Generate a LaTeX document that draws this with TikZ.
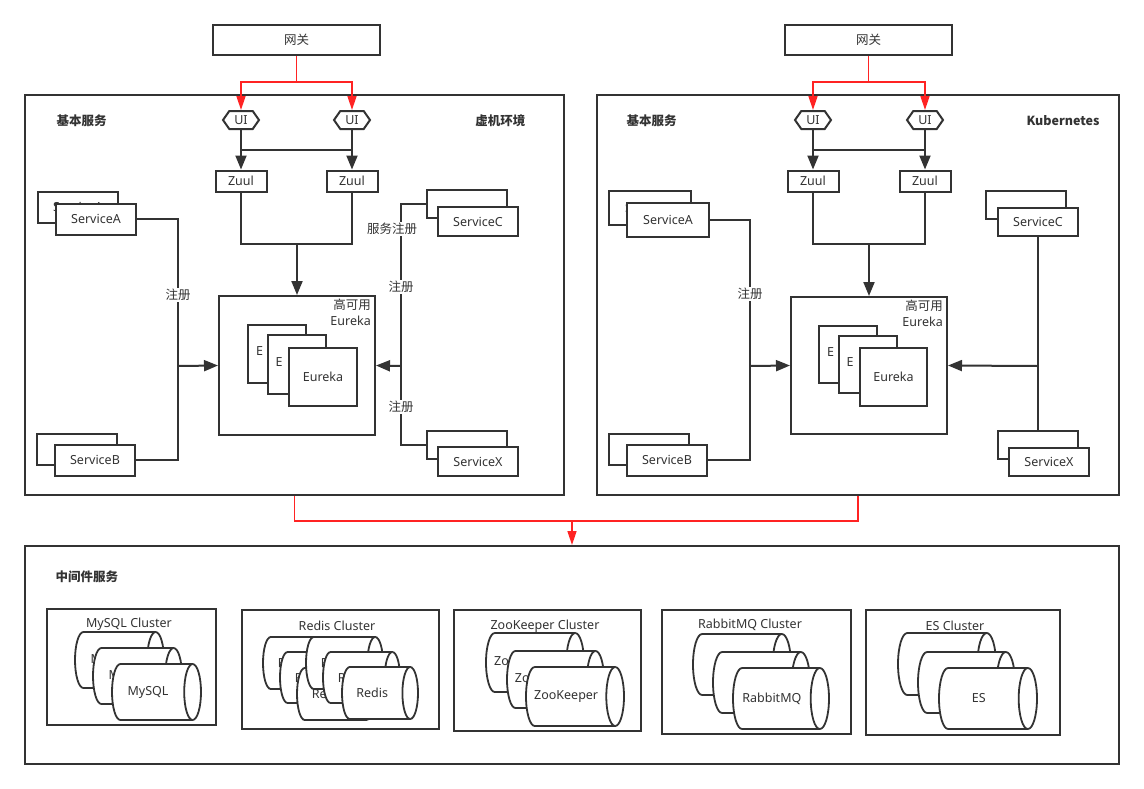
\documentclass[tikz,border=0pt]{standalone}
\usepackage{fontspec}
\setmainfont{Noto Sans}
\newfontfamily\cn{Noto Sans CJK SC}
\usetikzlibrary{arrows.meta,shapes.symbols}
\definecolor{linec}{RGB}{51,51,51}
\definecolor{redc}{RGB}{255,35,35}
% #1 name, #2 left, #3 top, #4 length, #5 diameter, #6 text
\newcommand\drum[6]{%
  \pgfmathsetmacro\dl{#2}\pgfmathsetmacro\dr{#2+#4}%
  \pgfmathsetmacro\dt{#3}\pgfmathsetmacro\db{#3+#5}%
  \pgfmathsetmacro\dry{#5/2}\pgfmathsetmacro\drx{0.3*\dry}%
  \filldraw[dbline] (\dr-\drx,\dt) arc[start angle=90,end angle=-90,x radius=\drx pt,y radius=\dry pt]
    -- (\dl+\drx,\db) arc[start angle=-90,end angle=-270,x radius=\drx pt,y radius=\dry pt] -- cycle;
  \draw[dbline] (\dr-\drx,\db) arc[start angle=-90,end angle=-270,x radius=\drx pt,y radius=\dry pt];
  \node (#1) at (\dl+#4/2-\drx,\dt+\dry) {#6};
}

\begin{document}
\begin{tikzpicture}[x=1pt,y=-1pt,every node/.style={font=\fontsize{12.5}{16}\selectfont,text=linec},
box/.style={shape=rectangle,draw=linec,line width=2pt,fill=white,inner sep=0pt},
panel/.style={box,fill=none},
svc/.style={box,minimum width=80pt,minimum height=31pt},
zuul/.style={box,minimum width=51pt,minimum height=21pt},
ui/.style={shape=signal,signal to=east and west,signal pointer angle=110,draw=linec,line width=2pt,fill=white,inner sep=0pt,minimum width=36pt,minimum height=18pt},
eur/.style={box,minimum width=58pt,minimum height=58pt},
eurB/.style={eur,text width=42pt,align=left},
head/.style={font=\fontsize{12.5}{15}\selectfont\cn\bfseries},
tag/.style={fill=white,inner sep=1pt},
dbline/.style={draw=linec,line width=1.8pt,fill=white},
ln/.style={draw=linec,line width=2pt},
arr/.style={ln,-{Triangle[length=14pt,width=11pt]}},
redln/.style={draw=redc,line width=1.5pt},
redarr/.style={redln,-{Triangle[length=14pt,width=9pt]}}]
\useasboundingbox (0,0) rectangle (1144,788);

\node[panel,minimum width=539pt,minimum height=400pt] (lP) at (294.5,295) {};
\node[panel,minimum width=522pt,minimum height=400pt] (rP) at (858,295) {};
\node[panel,minimum width=1094pt,minimum height=218pt] (M) at (572,655) {};

\node[box,minimum width=167pt,minimum height=30pt] (lG) at (296.5,40) {\cn 网关};
\node[box,minimum width=167pt,minimum height=30pt] (rG) at (868.5,40) {\cn 网关};

% left: vm
\node[head,anchor=west] (lH) at (53,121) {基本服务};
\node[head,anchor=east] (lV) at (529,121) {虚机环境};
\node[ui] (lU1) at (241,120) {UI};
\node[ui] (lU2) at (352,120) {UI};
\node[zuul] (lZ1) at (241,181) {Zuul};
\node[zuul] (lZ2) at (352,181) {Zuul};
\node[box,minimum width=156pt,minimum height=139pt] (lE) at (297,365.5) {};
\node[anchor=north east,align=right,inner sep=0pt,xshift=-5pt,yshift=-4pt] (lEt) at (lE.north east) {{\cn 高可用}\\Eureka};
\node[eurB] (lE1) at (277,354) {\raisebox{5pt}{E}};
\node[eurB,minimum height=59pt] (lE2) at (296.5,364.5) {\raisebox{5pt}{E}};
\node[eur,minimum width=68pt] (lE3) at (323,377) {Eureka};
\node[svc] (lA0) at (78,207) {\raisebox{-4pt}{ServiceA}};
\node[svc] (lA) at (96,219) {ServiceA};
\node[svc] (lB0) at (77,449) {};
\node[svc] (lB) at (95,460) {ServiceB};
\node[svc,minimum height=28pt] (lC0) at (467,204) {};
\node[svc,minimum height=29pt] (lC) at (478,221.5) {ServiceC};
\node[svc,minimum height=28pt] (lX0) at (467,445) {};
\node[svc,minimum height=29pt] (lX) at (478,461.5) {ServiceX};

% right: k8s
\node[head,anchor=west] (rH) at (623,121) {基本服务};
\node[head,anchor=east] (rK) at (1103,121) {Kubernetes};
\node[ui] (rU1) at (813,120) {UI};
\node[ui] (rU2) at (925,120) {UI};
\node[zuul] (rZ1) at (813,181) {Zuul};
\node[zuul] (rZ2) at (925,181) {Zuul};
\node[box,minimum width=156pt,minimum height=137pt] (rE) at (869,365.5) {};
\node[anchor=north east,align=right,inner sep=0pt,xshift=-5pt,yshift=-4pt] (rEt) at (rE.north east) {{\cn 高可用}\\Eureka};
\node[eurB,minimum height=57pt] (rE1) at (848,354.5) {\raisebox{5pt}{E}};
\node[eurB,minimum height=57pt] (rE2) at (867.5,364.5) {\raisebox{5pt}{E}};
\node[eur,minimum width=67pt] (rE3) at (893.5,377) {Eureka};
\node[svc,minimum width=82pt,minimum height=34pt] (rA0) at (650,208) {\raisebox{-4pt}{ServiceA}};
\node[svc,minimum width=82pt,minimum height=34pt] (rA) at (668,220) {ServiceA};
\node[svc] (rB0) at (649,449) {};
\node[svc] (rB) at (667,460) {ServiceB};
\node[svc,minimum height=28pt] (rC0) at (1026,205) {};
\node[svc,minimum height=28pt] (rC) at (1038,222) {ServiceC};
\node[svc,minimum height=28pt] (rX0) at (1038,445) {};
\node[svc,minimum height=28pt] (rX) at (1049,462) {ServiceX};

% middleware
\node[head,anchor=west] (mH) at (52,577) {中间件服务};
\node[box,minimum width=169pt,minimum height=116pt] (c1) at (131.5,667) {};
\node[box,minimum width=197pt,minimum height=119pt] (c2) at (340.5,669.5) {};
\node[box,minimum width=187pt,minimum height=121pt] (c3) at (547.5,670.5) {};
\node[box,minimum width=189pt,minimum height=124pt] (c4) at (756.5,672) {};
\node[box,minimum width=194pt,minimum height=125pt] (c5) at (963,672.5) {};
\node (c1t) at (129,624) {MySQL Cluster};
\node (c2t) at (337,626) {Redis Cluster};
\node (c3t) at (545,626) {ZooKeeper Cluster};
\node (c4t) at (750,625) {RabbitMQ Cluster};
\node (c5t) at (955,626) {ES Cluster};
\drum{c11}{75}{632}{89}{56}{MySQL}
\drum{c12}{93}{648}{89}{56}{MySQL}
\drum{c13}{112}{664}{89}{56}{MySQL}
\drum{c21}{263}{637}{77}{52}{Redis}
\drum{c22}{280}{652}{77}{51}{Redis}
\drum{c23}{297}{668}{77}{52}{Redis}
\drum{c24}{306}{637}{77}{52}{Redis}
\drum{c25}{323}{652}{77}{51}{Redis}
\drum{c26}{342}{667}{76}{52}{Redis}
\drum{c31}{486}{633}{98}{59}{ZooKeeper}
\drum{c32}{507}{651}{97}{57}{ZooKeeper}
\drum{c33}{526}{667}{98}{59}{ZooKeeper}
\drum{c41}{693}{634}{98}{61}{}
\drum{c42}{713}{652}{97}{61}{}
\drum{c43}{733}{668}{96}{61}{RabbitMQ}
\drum{c51}{898}{633}{98}{62}{}
\drum{c52}{918}{652}{97}{61}{}
\drum{c53}{939}{668}{98}{61}{ES}

% gateway -> UI
\coordinate (lg) at (296.5,82);
\coordinate (rg) at (868.5,82);
\draw[redln] (lG.south) -- (lg);
\draw[redarr] (lg) -| (lU1.north);
\draw[redarr] (lg) -| (lU2.north);
\draw[redln] (rG.south) -- (rg);
\draw[redarr] (rg) -| (rU1.north);
\draw[redarr] (rg) -| (rU2.north);

% UI -> Zuul -> Eureka
\coordinate (lj) at (0,150);
\coordinate (lk) at (0,244);
\draw[arr] (lU1.south) -- (lZ1.north);
\draw[arr] (lU2.south) -- (lZ2.north);
\draw[ln] (lU1.south |- lj) -- (lU2.south |- lj);
\draw[ln] (lZ1.south) |- (lZ2.south |- lk) -- (lZ2.south);
\draw[arr] (lE.north |- lk) -- (lE.north);
\draw[arr] (rU1.south) -- (rZ1.north);
\draw[arr] (rU2.south) -- (rZ2.north);
\draw[ln] (rU1.south |- lj) -- (rU2.south |- lj);
\draw[ln] (rZ1.south) |- (rZ2.south |- lk) -- (rZ2.south);
\draw[arr] (rE.north |- lk) -- (rE.north);

% services -> Eureka
\coordinate (lb) at (178,366);
\coordinate (lc) at (401,366);
\draw[ln] (lA.east) -| (lb);
\draw[ln] (lB.east) -| (lb);
\draw[arr] (lb) -- (lE.west);
\draw[ln] (lC0.west) -| (lc);
\draw[ln] (lX0.west) -| (lc);
\draw[arr] (lc) -- (lE.east);
\node[tag] (lt1) at (178,295) {\cn 注册};
\node[tag] (lt2) at (392,229) {\cn 服务注册};
\node[tag] (lt3) at (401,287) {\cn 注册};
\node[tag] (lt4) at (401,407) {\cn 注册};
\coordinate (rb) at (750,366);
\coordinate (rc) at (1038,366);
\draw[ln] (rA.east) -| (rb);
\draw[ln] (rB.east) -| (rb);
\draw[arr] (rb) -- (rE.west);
\draw[ln] (rC.south) -- (rX0.north);
\draw[arr] (rc) -- (rE.east);
\node[tag] (rt1) at (750,294) {\cn 注册};

% both -> middleware
\coordinate (mj) at (572,521);
\draw[redln] (lP.south) |- (mj);
\draw[redln] (rP.south) |- (mj);
\draw[redarr] (mj) -- (M.north);
\end{tikzpicture}
\end{document}
